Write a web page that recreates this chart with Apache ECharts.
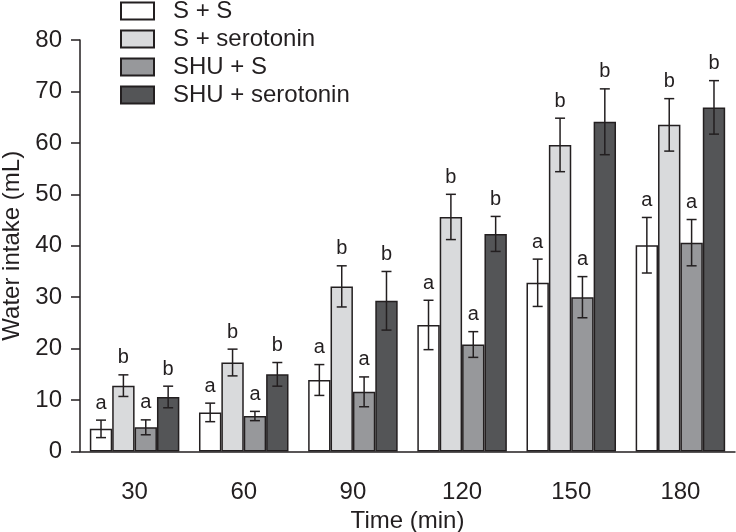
<!DOCTYPE html>
<html>
<head>
<meta charset="utf-8">
<script src="https://cdn.jsdelivr.net/npm/echarts@6/dist/echarts.min.js"></script>
<style>html,body{margin:0;padding:0;background:#fff;}#c{width:736px;height:532px;}</style>
</head>
<body>
<div id="c"></div>
<script>
const categories = ['30', '60', '90', '120', '150', '180'];
const seriesNames = ['S + S', 'S + serotonin', 'SHU + S', 'SHU + serotonin'];
const sS = [4.4, 7.6, 13.9, 24.6, 32.8, 40.1];
const sSErr = [1.7, 1.8, 3.0, 4.8, 4.6, 5.4];
const sSero = [12.8, 17.3, 32.1, 45.6, 59.6, 63.5];
const sSeroErr = [2.1, 2.6, 4.0, 4.4, 5.2, 5.1];
const shuS = [4.7, 6.9, 11.6, 20.8, 30.0, 40.6];
const shuSErr = [1.45, 0.9, 2.9, 2.5, 4.0, 4.5];
const shuSero = [10.6, 15.0, 29.3, 42.3, 64.1, 66.9];
const shuSeroErr = [2.1, 2.3, 5.7, 3.4, 6.4, 5.2];
const sSLetters = ['a', 'a', 'a', 'a', 'a', 'a'];
const sSeroLetters = ['b', 'b', 'b', 'b', 'b', 'b'];
const shuSLetters = ['a', 'a', 'a', 'a', 'a', 'a'];
const shuSeroLetters = ['b', 'b', 'b', 'b', 'b', 'b'];
const yTicks = [0, 10, 20, 30, 40, 50, 60, 70, 80];

const values = [sS, sSero, shuS, shuSero];
const errs = [sSErr, sSeroErr, shuSErr, shuSeroErr];
const letters = [sSLetters, sSeroLetters, shuSLetters, shuSeroLetters];
const colors = ['#ffffff', '#d9dadc', '#97989b', '#545557'];
const ink = '#231f20';
const font = 'Liberation Sans, Arial, Helvetica, sans-serif';
const catGap = 0.18;

const chart = echarts.init(document.getElementById('c'), null, {renderer: 'canvas'});
const series = [];
values.forEach((vals, k) => {
  series.push({
    name: seriesNames[k], type: 'bar', data: vals,
    barCategoryGap: (catGap * 100) + '%', barGap: '0%',
    itemStyle: {color: colors[k], borderColor: ink, borderWidth: 1.5},
    emphasis: {disabled: true}
  });
});
values.forEach((vals, k) => {
  series.push({
    name: 'err' + k, type: 'custom', z: 10,
    data: vals.map((v, i) => [i, v, errs[k][i]]),
    encode: {x: 0, y: 1},
    renderItem: function (params, api) {
      const i = api.value(0), v = api.value(1), e = api.value(2);
      const letter = letters[k][i];
      const band = api.size([1, 0])[0];
      const bw = band * (1 - catGap) / 4;
      const cx = api.coord([i, v])[0] + (k - 1.5) * bw;
      const yt = api.coord([i, v + e])[1];
      const yb = api.coord([i, v - e])[1];
      const cap = 5;
      const st = {stroke: ink, lineWidth: 1.5};
      return {type: 'group', children: [
        {type: 'line', shape: {x1: cx, y1: yt, x2: cx, y2: yb}, style: st},
        {type: 'line', shape: {x1: cx - cap, y1: yt, x2: cx + cap, y2: yt}, style: st},
        {type: 'line', shape: {x1: cx - cap, y1: yb, x2: cx + cap, y2: yb}, style: st},
        {type: 'text', x: cx, y: yt - 17, style: {text: letter, fill: ink, font: '20px ' + font, align: 'center', verticalAlign: 'middle'}}
      ]};
    }
  });
});

chart.setOption({
  animation: false,
  backgroundColor: '#fff',
  textStyle: {fontFamily: font},
  grid: {left: 80, right: 1, top: 40, bottom: 80.5, containLabel: false, outerBoundsMode: 'none'},
  legend: {
    data: seriesNames, orient: 'vertical', left: 120, top: -1, padding: 0,
    itemWidth: 33, itemHeight: 17, itemGap: 4,
    icon: 'rect',
    textStyle: {fontSize: 24, color: ink, fontFamily: font, padding: [0, 0, 0, 14]},
    selectedMode: false
  },
  xAxis: {
    type: 'category', data: categories,
    name: 'Time (min)', nameLocation: 'middle', nameGap: 53,
    nameTextStyle: {fontSize: 24, color: ink, fontFamily: font},
    axisLine: {lineStyle: {color: ink, width: 1.5}},
    axisTick: {length: 9, lineStyle: {color: ink, width: 1.5}},
    axisLabel: {fontSize: 24, color: ink, margin: 29, fontFamily: font}
  },
  yAxis: {
    type: 'value', min: yTicks[0], max: yTicks[yTicks.length - 1], interval: 10,
    name: 'Water intake (mL)', nameLocation: 'middle', nameGap: 52,
    nameTextStyle: {fontSize: 24, color: ink, fontFamily: font},
    axisLine: {show: true, lineStyle: {color: ink, width: 1.5}},
    axisTick: {show: true, length: 9, lineStyle: {color: ink, width: 1.5}},
    axisLabel: {fontSize: 24, color: ink, margin: 18, fontFamily: font},
    splitLine: {show: false}
  },
  series: series
});
</script>
</body>
</html>
